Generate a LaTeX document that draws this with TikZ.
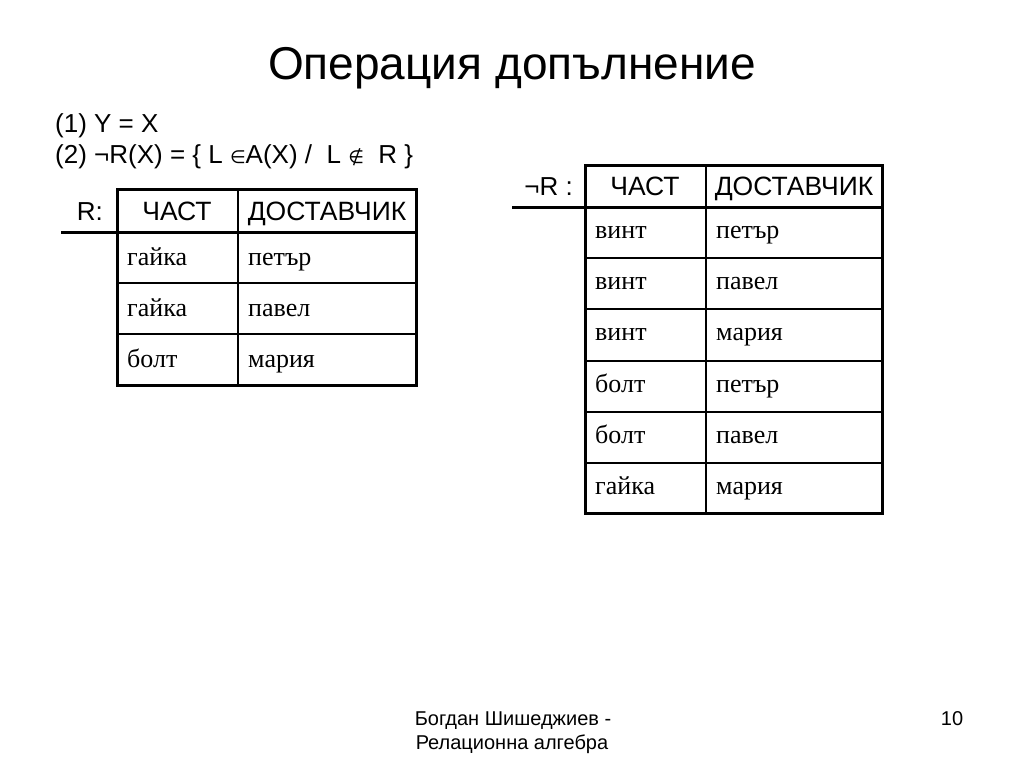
\documentclass[tikz,border=0pt]{standalone}
\usepackage{fontspec}
\setmainfont{Liberation Sans}
\newfontfamily\serifcyr{Liberation Serif}
\newfontfamily\symfont{DejaVu Sans}
\begin{document}
\begin{tikzpicture}[x=1pt,y=-1pt,
  hdr/.style={font=\fontsize{26.5}{30}\selectfont, anchor=base, inner sep=0},
  cell/.style={font=\serifcyr\fontsize{26}{30}\selectfont, anchor=base west, inner sep=0},
  txt/.style={font=\fontsize{26}{30}\selectfont, inner sep=0},
  foot/.style={font=\fontsize{20}{24}\selectfont, anchor=base, inner sep=0},
  outer/.style={line width=3pt},
  inner/.style={line width=1.3pt}]
\useasboundingbox[fill=white] (0,0) rectangle (1024,768);

% title
\node[font=\fontsize{46}{52}\selectfont, anchor=base, inner sep=0] (title) at (512,79) {Операция допълнение};

% definitions
\node[txt, anchor=base west] (d1) at (55,132) {(1) Y = X};
\node[txt, anchor=base west] (d2) at (55,163) {(2) ¬R(X) = \{ L {\symfont\fontsize{18}{22}\selectfont ∈}A(X) /\ \ L\ {\symfont\fontsize{18}{22}\selectfont ∉}\ \ R \}};

% table R
\node[txt, anchor=base east] (rlab) at (103,220) {R:};
\draw[inner] (238,189) -- (238,385);
\foreach \yy in {283,334} \draw[inner] (117,\yy) -- (416,\yy);
\draw[outer] (117,189) rectangle (416,385);
\draw[outer] (61,232) -- (416,232);
\node[hdr] (rh1) at (177,220) {ЧАСТ};
\node[hdr] (rh2) at (327,220) {ДОСТАВЧИК};
\node[cell] (r11) at (127,265) {гайка};
\node[cell] (r12) at (248,265) {петър};
\node[cell] (r21) at (127,316) {гайка};
\node[cell] (r22) at (248,316) {павел};
\node[cell] (r31) at (127,367) {болт};
\node[cell] (r32) at (248,367) {мария};

% table not R
\node[txt, anchor=base east] (nlab) at (573,195) {¬R :};
\draw[inner] (706,165) -- (706,513);
\foreach \yy in {258,309,361,412,463} \draw[inner] (585,\yy) -- (882,\yy);
\draw[outer] (585,165) rectangle (882,513);
\draw[outer] (512,207) -- (882,207);
\node[hdr] (nh1) at (645,195) {ЧАСТ};
\node[hdr] (nh2) at (794,195) {ДОСТАВЧИК};
\node[cell] (n11) at (595,238) {винт};
\node[cell] (n12) at (716,238) {петър};
\node[cell] (n21) at (595,289) {винт};
\node[cell] (n22) at (716,289) {павел};
\node[cell] (n31) at (595,340) {винт};
\node[cell] (n32) at (716,340) {мария};
\node[cell] (n41) at (595,392) {болт};
\node[cell] (n42) at (716,392) {петър};
\node[cell] (n51) at (595,443) {болт};
\node[cell] (n52) at (716,443) {павел};
\node[cell] (n61) at (595,494) {гайка};
\node[cell] (n62) at (716,494) {мария};

% footer
\node[foot] (f1) at (513,725) {Богдан Шишеджиев -};
\node[foot] (f2) at (512,749) {Релационна алгебра};
\node[foot] (pg) at (952,725) {10};
\end{tikzpicture}
\end{document}
